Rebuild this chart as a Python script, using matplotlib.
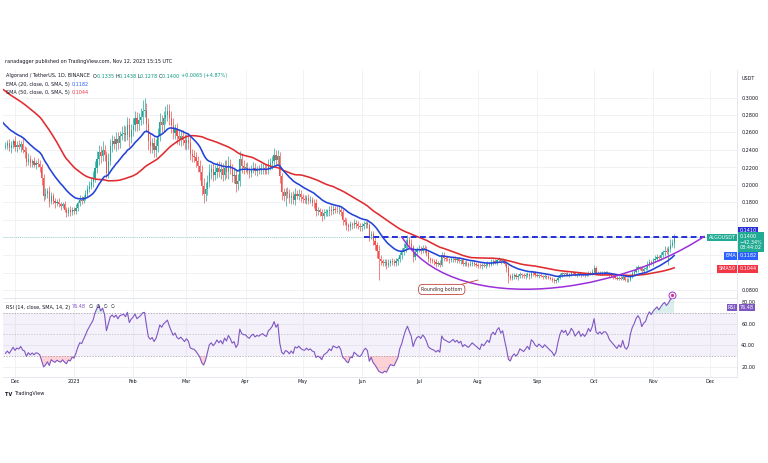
import numpy as np
import pandas as pd
import matplotlib
matplotlib.use("Agg")
import matplotlib.pyplot as plt
import matplotlib.dates as mdates
import matplotlib.transforms as mtransforms
from matplotlib.ticker import FuncFormatter
from matplotlib.path import Path
from matplotlib.patches import PathPatch

# ---------------- data (prices in 1e-4 USDT) ----------------
# warm-up closes for the indicators, 2022-10-07 .. 2022-11-25
pre_close = [3300, 3280, 3260, 3220, 3170, 3150, 3160, 3180, 3150, 3160,
             3190, 3170, 3130, 3110, 3130, 3150, 3170, 3190, 3240, 3350,
             3400, 3380, 3420, 3500, 3540,
             3580, 3550, 3600, 3750, 3800, 3700, 3600, 3300, 2800, 3050,
             2950, 2850, 2700, 2650, 2700, 2600, 2620, 2550, 2480, 2400,
             2330, 2380, 2450, 2470, 2440]

# visible daily closes from 2022-11-26 to 2023-11-12
close_nov22 = [2450, 2480, 2420, 2460, 2500]
close_dec22 = [2430, 2460, 2440, 2470, 2400, 2380, 2260, 2300, 2250, 2270,
               2230, 2250, 2240, 2210, 2080, 1880, 1900, 1930, 1810, 1870,
               1820, 1790, 1810, 1780, 1760, 1780, 1720, 1680, 1710, 1690, 1720]
close_jan23 = [1700, 1740, 1790, 1830, 1820, 1860, 1900, 1950, 1990, 2030,
               2080, 2200, 2300, 2380, 2330, 2400, 2340, 2140, 2280, 2450,
               2500, 2470, 2530, 2480, 2560, 2580, 2600, 2570, 2680, 2550, 2630]
close_feb23 = [2680, 2760, 2700, 2740, 2780, 2850, 2860, 2700, 2500, 2450,
               2480, 2400, 2450, 2560, 2720, 2680, 2760, 2800, 2850, 2760,
               2680, 2600, 2640, 2560, 2530, 2560, 2520, 2480]
close_mar23 = [2520, 2480, 2350, 2330, 2320, 2280, 2220, 2150, 1990, 1900,
               1950, 2040, 2150, 2180, 2120, 2150, 2200, 2150, 2180, 2120,
               2200, 2150, 2230, 2180, 2100, 2120, 2010, 2050, 2300, 2220, 2200]
close_apr23 = [2200, 2160, 2140, 2180, 2200, 2160, 2180, 2170, 2190, 2200,
               2180, 2170, 2230, 2250, 2280, 2340, 2290, 2330, 2100, 1920,
               1880, 1920, 1900, 1850, 1880, 1830, 1900, 1880, 1900, 1860]
close_may23 = [1840, 1830, 1850, 1820, 1830, 1800, 1790, 1700, 1710, 1690,
               1650, 1680, 1690, 1700, 1720, 1700, 1730, 1720, 1710, 1720,
               1690, 1600, 1580, 1540, 1520, 1550, 1540, 1570, 1550, 1530, 1520]
close_jun23 = [1530, 1550, 1560, 1540, 1420, 1440, 1360, 1320, 1250, 1160,
               1130, 1110, 1120, 1090, 1110, 1130, 1120, 1110, 1130, 1150,
               1200, 1230, 1280, 1330, 1370, 1330, 1290, 1180, 1230, 1260]
close_jul23 = [1270, 1250, 1280, 1260, 1220, 1160, 1140, 1130, 1120, 1100,
               1110, 1090, 1200, 1170, 1160, 1150, 1140, 1150, 1160, 1140,
               1150, 1130, 1140, 1100, 1110, 1100, 1090, 1100, 1110, 1100, 1090]
close_aug23 = [1080, 1070, 1090, 1080, 1090, 1100, 1090, 1120, 1130, 1120,
               1140, 1150, 1130, 1140, 1100, 1050, 960, 940, 960, 970,
               950, 960, 980, 970, 960, 970, 980, 960, 1000, 990, 970]
close_sep23 = [960, 970, 960, 950, 960, 950, 940, 930, 920, 900,
               910, 940, 970, 990, 980, 990, 970, 980, 1000, 990,
               970, 980, 990, 970, 980, 970, 980, 1000, 990, 1010]
close_oct23 = [1050, 1000, 990, 1000, 990, 1000, 1000, 990, 970, 960,
               950, 940, 930, 940, 930, 950, 920, 910, 920, 960,
               990, 1010, 1040, 1060, 1050, 1020, 1040, 1050, 1090, 1120, 1110]
close_nov23 = [1140, 1160, 1180, 1170, 1200, 1230, 1250, 1240, 1270, 1320, 1335, 1400]

# upper / lower wick lengths (1e-4 USDT)
up_nov22 = [40, 30, 50, 40, 30]
dn_nov22 = [30, 40, 30, 50, 40]
up_dec22 = [60, 40, 50, 30, 80, 40, 50, 60, 40, 30, 50, 40, 60, 40, 30, 50, 70, 40, 60, 50,
            40, 30, 30, 40, 20, 30, 40, 30, 40, 50, 30]
dn_dec22 = [40, 50, 30, 60, 40, 70, 40, 30, 50, 40, 30, 50, 40, 60, 80, 60, 40, 50, 60, 30,
            40, 50, 30, 30, 40, 20, 30, 50, 30, 40, 30]
up_jan23 = [30, 40, 30, 50, 40, 30, 40, 50, 60, 50, 80, 70, 90, 80, 70, 100, 60, 50, 90, 80,
            70, 60, 80, 70, 60, 90, 80, 70, 100, 80, 70]
dn_jan23 = [30, 30, 40, 30, 40, 30, 30, 40, 30, 40, 50, 40, 60, 70, 80, 60, 70, 60, 60, 50,
            70, 60, 80, 70, 60, 50, 80, 70, 60, 120, 70]
up_feb23 = [80, 90, 70, 80, 100, 120, 130, 80, 70, 90, 60, 70, 80, 90, 100, 80, 90, 100, 80, 70,
            80, 90, 60, 70, 80, 60, 70, 60]
dn_feb23 = [70, 60, 80, 70, 60, 80, 70, 90, 100, 80, 90, 80, 80, 70, 60, 80, 70, 60, 70, 80,
            90, 70, 80, 90, 70, 80, 60, 70]
up_mar23 = [60, 70, 80, 60, 70, 60, 50, 60, 80, 90, 80, 70, 90, 60, 70, 80, 60, 70, 80, 70,
            90, 80, 100, 70, 60, 70, 60, 80, 90, 70, 60]
dn_mar23 = [80, 70, 60, 70, 60, 80, 70, 90, 100, 110, 80, 70, 60, 80, 70, 60, 70, 60, 80, 70,
            60, 70, 80, 60, 70, 80, 90, 70, 60, 80, 70]
up_apr23 = [50, 60, 40, 50, 60, 50, 40, 50, 60, 50, 40, 60, 70, 60, 50, 80, 60, 70, 50, 40,
            50, 40, 60, 50, 40, 50, 60, 40, 50, 40]
dn_apr23 = [50, 40, 60, 50, 40, 50, 60, 40, 50, 60, 50, 40, 50, 60, 70, 50, 60, 50, 80, 90,
            60, 120, 50, 60, 70, 50, 60, 40, 50, 60]
up_may23 = [40, 50, 40, 50, 40, 30, 40, 50, 40, 30, 40, 50, 40, 30, 40, 50, 40, 30, 40, 50,
            30, 40, 30, 40, 30, 40, 30, 40, 30, 40, 30]
dn_may23 = [50, 40, 50, 40, 30, 40, 50, 60, 40, 50, 60, 40, 30, 40, 50, 40, 30, 40, 30, 40,
            50, 60, 40, 50, 40, 30, 40, 30, 40, 30, 40]
up_jun23 = [30, 40, 30, 40, 30, 40, 30, 40, 30, 60, 40, 30, 40, 30, 40, 30, 40, 30, 40, 30,
            40, 50, 60, 50, 60, 40, 50, 30, 40, 30]
dn_jun23 = [40, 30, 40, 30, 60, 40, 50, 60, 80, 250, 40, 30, 40, 50, 30, 40, 30, 40, 30, 40,
            30, 40, 30, 40, 50, 40, 30, 60, 40, 30]
up_jul23 = [40, 30, 40, 30, 40, 30, 20, 30, 20, 30, 20, 30, 40, 30, 20, 30, 20, 30, 20, 30,
            20, 30, 20, 30, 20, 30, 20, 30, 20, 30, 20]
dn_jul23 = [30, 40, 30, 40, 30, 40, 30, 20, 30, 40, 20, 30, 20, 40, 30, 20, 30, 20, 30, 20,
            30, 20, 30, 20, 30, 20, 30, 20, 30, 20, 30]
up_aug23 = [20, 30, 20, 30, 20, 30, 20, 30, 20, 30, 20, 30, 20, 30, 20, 30, 40, 20, 30, 20,
            30, 20, 30, 20, 30, 20, 30, 20, 30, 20, 30]
dn_aug23 = [30, 20, 30, 20, 30, 20, 30, 20, 30, 20, 30, 20, 30, 20, 30, 40, 80, 30, 20, 30,
            20, 30, 20, 30, 20, 30, 20, 30, 20, 30, 20]
up_sep23 = [20, 15, 20, 15, 20, 15, 20, 15, 20, 15, 20, 15, 20, 15, 20, 15, 20, 15, 20, 15,
            20, 15, 20, 15, 20, 15, 20, 15, 20, 30]
dn_sep23 = [15, 20, 15, 20, 15, 20, 15, 20, 30, 20, 15, 20, 15, 20, 15, 20, 15, 20, 15, 20,
            15, 20, 15, 20, 15, 20, 15, 20, 15, 20]
up_oct23 = [40, 20, 15, 20, 15, 20, 15, 20, 15, 20, 15, 20, 15, 20, 15, 20, 15, 20, 15, 20,
            30, 20, 40, 30, 20, 30, 20, 30, 40, 30, 20]
dn_oct23 = [15, 30, 20, 15, 20, 15, 20, 15, 20, 15, 20, 15, 20, 15, 20, 15, 20, 15, 20, 15,
            20, 15, 20, 30, 20, 30, 20, 15, 20, 30, 20]
up_nov23 = [30, 40, 30, 20, 40, 30, 50, 40, 30, 60, 50, 38]
dn_nov23 = [30, 20, 30, 40, 30, 20, 40, 30, 150, 40, 30, 57]

# drawings
level_price = 0.1410
level_dates = ["2023-06-02", "2023-11-28"]
rb_dates = ["2023-06-22", "2023-07-17", "2023-10-09", "2023-11-28"]   # bezier anchors/controls
rb_prices = [0.1410, 0.0520, 0.0700, 0.1415]
note_text = "Rounding bottom"
note_date, note_price = "2023-07-13", 0.0806
note_tip_date, note_tip_price = "2023-08-01", 0.0914

price_ticks = [0.08, 0.10, 0.12, 0.14, 0.16, 0.18, 0.20, 0.22, 0.24, 0.26, 0.28, 0.30]
hidden_price_labels = [0.10, 0.12, 0.14]      # covered by the value tags
rsi_ticks = [20, 40, 60, 80]

# ---------------- series assembly ----------------
vis_close = (close_nov22 + close_dec22 + close_jan23 + close_feb23 + close_mar23 + close_apr23 +
             close_may23 + close_jun23 + close_jul23 + close_aug23 + close_sep23 + close_oct23 + close_nov23)
wick_up = (up_nov22 + up_dec22 + up_jan23 + up_feb23 + up_mar23 + up_apr23 + up_may23 +
           up_jun23 + up_jul23 + up_aug23 + up_sep23 + up_oct23 + up_nov23)
wick_dn = (dn_nov22 + dn_dec22 + dn_jan23 + dn_feb23 + dn_mar23 + dn_apr23 + dn_may23 +
           dn_jun23 + dn_jul23 + dn_aug23 + dn_sep23 + dn_oct23 + dn_nov23)

pre_dates = pd.date_range("2022-10-07", periods=len(pre_close), freq="D")
vis_dates = pd.date_range("2022-11-26", periods=len(vis_close), freq="D")
all_close = pd.Series(np.array(pre_close + vis_close, dtype=float) / 1e4,
                      index=pre_dates.append(vis_dates))

ema20 = all_close.ewm(span=20, adjust=False).mean()
sma50 = all_close.rolling(50).mean()
delta = all_close.diff()
gain = delta.clip(lower=0).ewm(alpha=1 / 14, adjust=False).mean()
loss = (-delta.clip(upper=0)).ewm(alpha=1 / 14, adjust=False).mean()
rsi = 100 - 100 / (1 + gain / loss)

c = all_close[vis_dates].values
o = all_close.shift(1)[vis_dates].values
hi = np.maximum(o, c) + np.array(wick_up) / 1e4
lo = np.minimum(o, c) - np.array(wick_dn) / 1e4
xn = mdates.date2num(vis_dates)

# ---------------- figure ----------------
W, H, DPI = 768, 463, 100
plt.rcParams["font.family"] = ["DejaVu Sans"]
fig = plt.figure(figsize=(W / DPI, H / DPI), dpi=DPI)
fig.patch.set_facecolor("white")

def fx(px):
    return px / W

def fy(py):
    return 1 - py / H

L, R = 3, 737
MAIN_T, MAIN_B = 70, 298
RSI_T, RSI_B = 299, 377
ax = fig.add_axes([fx(L), fy(MAIN_B), (R - L) / W, (MAIN_B - MAIN_T) / H])
axr = fig.add_axes([fx(L), fy(RSI_B), (R - L) / W, (RSI_B - RSI_T) / H], sharex=ax)

x0 = mdates.date2num(pd.Timestamp("2022-12-01"))
ax.set_xlim(x0 - 6.3, x0 + 379.0)
ax.set_ylim(0.30 - (MAIN_B - 97.5) / 875, 0.30 + (97.5 - MAIN_T) / 875)
axr.set_ylim(20 - (RSI_B - 367) / 1.0833, 80 + (302 - RSI_T) / 1.0833)

GRID = "#eef0f5"
TXT = "#131722"
FS = 3.5
for a in (ax, axr):
    a.set_facecolor("white")
    for s in a.spines.values():
        s.set_visible(False)
    a.spines["right"].set_visible(True)
    a.spines["right"].set_color("#e0e3eb")
    a.spines["right"].set_linewidth(0.6)
    a.spines["bottom"].set_visible(True)
    a.spines["bottom"].set_color("#e0e3eb")
    a.spines["bottom"].set_linewidth(0.6)
    a.yaxis.tick_right()
    a.tick_params(axis="both", length=0, labelsize=FS, labelcolor=TXT)
    a.tick_params(axis="y", pad=3)
    a.xaxis.set_major_locator(mdates.MonthLocator())
    a.grid(True, color=GRID, linewidth=0.6)
    a.set_axisbelow(True)

def month_fmt(v, pos):
    d = mdates.num2date(v)
    return str(d.year) if d.month == 1 else d.strftime("%b")

def price_fmt(v, pos):
    if any(abs(v - h) < 1e-6 for h in hidden_price_labels):
        return ""
    return f"{v:.4f}"

axr.xaxis.set_major_formatter(FuncFormatter(month_fmt))
axr.tick_params(axis="x", pad=1.5)
ax.tick_params(axis="x", labelbottom=False)

ax.set_yticks(price_ticks)
ax.yaxis.set_major_formatter(FuncFormatter(price_fmt))
axr.set_yticks(rsi_ticks)
axr.yaxis.set_major_formatter(FuncFormatter(lambda v, p: f"{v:.2f}"))

# candles
UP, DN = "#26a69a", "#ef5350"
cols = np.where(c >= o, UP, DN)
ax.vlines(xn, lo, hi, colors=cols, linewidth=0.5, zorder=3)
body = np.maximum(np.abs(c - o), 0.0003)
ax.bar(xn, body, bottom=np.minimum(o, c), width=0.62, color=cols, linewidth=0, zorder=3.1)

# last price line
ax.axhline(c[-1], color=UP, lw=0.5, ls=(0, (1, 2)), alpha=0.8, zorder=2)

# moving averages
xa = mdates.date2num(all_close.index)
ax.plot(xa, sma50.values, color="#e02b2f", lw=1.15, zorder=4)
ax.plot(xa, ema20.values, color="#2343d8", lw=1.15, zorder=4.1)

# horizontal level
ax.plot(mdates.date2num(pd.to_datetime(level_dates)), [level_price, level_price],
        color="#2630d6", lw=1.4, ls=(0, (3, 1.8)), zorder=5)

# rounding bottom curve (cubic bezier)
rbx = mdates.date2num(pd.to_datetime(rb_dates))
verts = list(zip(rbx, rb_prices))
path = Path(verts, [Path.MOVETO, Path.CURVE4, Path.CURVE4, Path.CURVE4])
ax.add_patch(PathPatch(path, fc="none", ec="#9b30d9", lw=1.1, zorder=5))

# callout
ax.annotate(note_text,
            xy=(mdates.date2num(pd.Timestamp(note_tip_date)), note_tip_price),
            xytext=(mdates.date2num(pd.Timestamp(note_date)), note_price),
            ha="center", va="center", fontsize=3.4, color="#4a2a2a",
            bbox=dict(boxstyle="round,pad=0.55,rounding_size=0.9", fc="white", ec="#c0443e", lw=0.6),
            arrowprops=dict(arrowstyle="-", color="#c0443e", lw=0.6, shrinkA=0, shrinkB=0),
            zorder=6)

# small alert icon
icon_x = mdates.date2num(pd.Timestamp("2023-11-11"))
ax.plot([icon_x], [0.0743], marker="o", ms=5, mfc="white", mec="#9b30d9", mew=0.7, zorder=7, clip_on=False)
ax.plot([icon_x], [0.0743], marker="o", ms=1.3, color="#d63384", zorder=8, clip_on=False)

# RSI pane
rx = mdates.date2num(vis_dates)
rv = rsi[vis_dates].values
axr.axhspan(30, 70, color="#7e57c2", alpha=0.08, lw=0, zorder=1)
for lvl, al in ((70, 1.0), (50, 0.6), (30, 1.0)):
    axr.axhline(lvl, color="#9598a1", lw=0.5, ls=(0, (2, 2)), alpha=al, zorder=1.5)
axr.fill_between(rx, rv, 30, where=rv < 30, interpolate=True, color="#f23645", alpha=0.22, lw=0, zorder=2)
axr.fill_between(rx, rv, 70, where=rv > 70, interpolate=True, color="#089981", alpha=0.15, lw=0, zorder=2)
axr.plot(rx, rv, color="#7e57c2", lw=0.8, zorder=3)

# right-hand value boxes
def box(a, xa_, y, s, fc, ha, va="center", tc="white", pad=0.3):
    tr = mtransforms.blended_transform_factory(a.transAxes, a.transData)
    a.text(xa_, y, s, transform=tr, ha=ha, va=va, fontsize=FS, color=tc, linespacing=1.15,
           bbox=dict(boxstyle=f"square,pad={pad}", fc=fc, ec="none"), clip_on=False, zorder=20)

box(ax, 1.0035, 0.1482, "0.1410", "#2630d6", "left", pad=0.25)
box(ax, 0.9985, 0.1400, "ALGOUSDT", "#22ab94", "right")
box(ax, 1.0035, 0.1441, "0.1400\n\u221242.34%\n08:44:02", "#22ab94", "left", va="top")
box(ax, 0.9985, 0.1189, "EMA", "#2962ff", "right")
box(ax, 1.0035, 0.1189, "0.1182", "#2962ff", "left")
box(ax, 0.9985, 0.1040, "SMA50", "#f23645", "right")
box(ax, 1.0035, 0.1040, "0.1044", "#f23645", "left")
box(axr, 0.9985, 75.0, "RSI", "#7e57c2", "right", pad=0.2)
box(axr, 1.0035, 75.0, "76.48", "#7e57c2", "left", pad=0.2)

fig.text(fx(742), fy(79), "USDT", fontsize=FS, color=TXT, va="center")

# header texts
renderer = fig.canvas.get_renderer()

def seq(x_px, y_px, parts, size=3.5):
    x = x_px
    for s, col, *w in parts:
        t = fig.text(x / W, fy(y_px), s, color=col, fontsize=size, va="center", ha="left",
                     fontweight=(w[0] if w else "normal"))
        bb = t.get_window_extent(renderer=renderer)
        x = bb.x1

GRAY = "#131722"
TEAL = "#089981"
seq(5, 62, [("ranadagger published on TradingView.com, Nov 12, 2023 15:15 UTC", GRAY)])
seq(6, 76, [("Algorand / TetherUS, 1D, BINANCE  ", GRAY), ("O", GRAY), ("0.1335 ", TEAL),
            ("H", GRAY), ("0.1438 ", TEAL), ("L", GRAY), ("0.1278 ", TEAL), ("C", GRAY),
            ("0.1400 ", TEAL), ("+0.0065 (+4.87%)", TEAL)])
seq(6, 84.5, [("EMA (20, close, 0, SMA, 5) ", GRAY), ("0.1182", "#2962ff")])
seq(6, 92.5, [("SMA (50, close, 0, SMA, 5) ", GRAY), ("0.1044", "#f23645")])
seq(6, 307, [("RSI (14, close, SMA, 14, 2) ", GRAY), ("76.48", "#7e57c2"),
             ("  \u2205  \u2205  \u2205  \u2205", GRAY)])
seq(5, 394, [("TV ", "#131722", "bold"), ("TradingView", "#131722")], size=3.6)

fig.savefig("out.png", dpi=DPI)
